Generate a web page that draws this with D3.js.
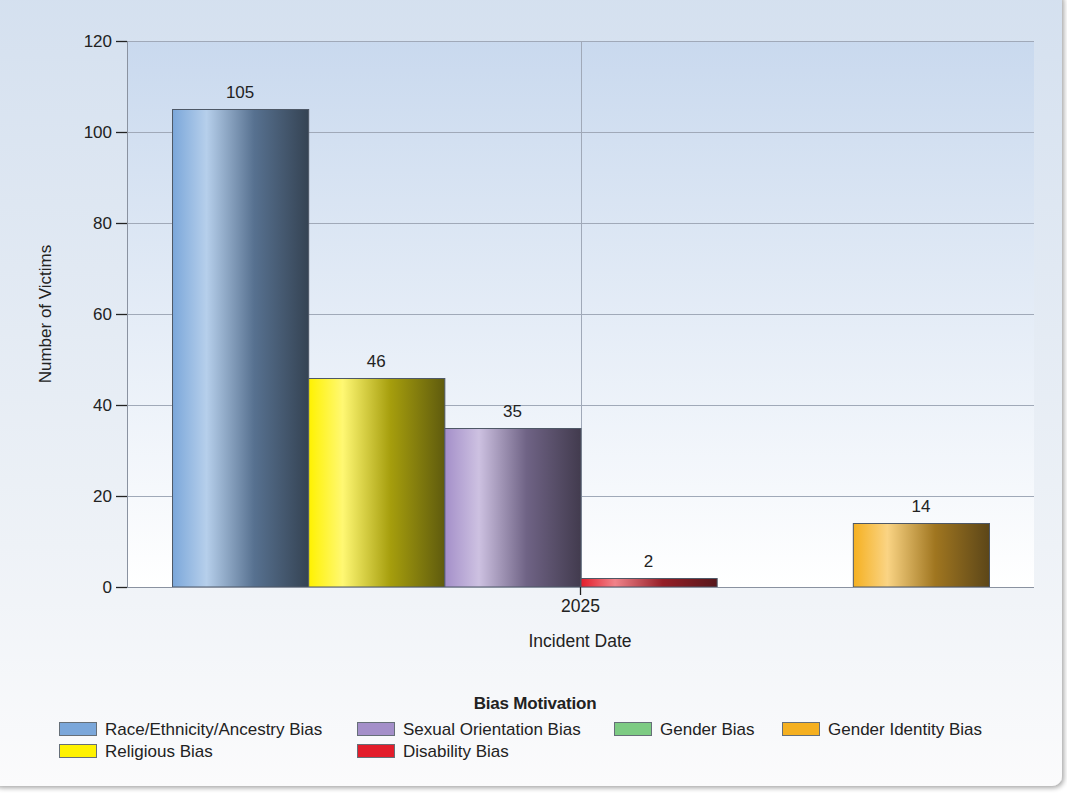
<!DOCTYPE html>
<html><head><meta charset="utf-8">
<script src="https://cdn.jsdelivr.net/npm/d3@7"></script>
<style>body{margin:0;background:#fff}svg{display:block}text{font-family:"Liberation Sans",Arial,sans-serif;fill:#222}</style>
</head><body><svg id="c" width="1067" height="795"></svg>
<script>
const categories = ["2025"];
const seriesNames = ["Race/Ethnicity/Ancestry Bias","Religious Bias","Sexual Orientation Bias","Disability Bias","Gender Bias","Gender Identity Bias"];
const seriesValues = [105, 46, 35, 2, 0, 14];
const seriesColors = ["#7ba7da","#fff200","#a48fc9","#e31d2b","#7dcb83","#f5b020"];
const yTicks = [0,20,40,60,80,100,120];
const legendOrder = ["Race/Ethnicity/Ancestry Bias","Sexual Orientation Bias","Gender Bias","Gender Identity Bias","Religious Bias","Disability Bias"];

const svg = d3.select("#c");
const defs = svg.append("defs");
const m={l:127,r:1034,t:41,b:587};

// outer background
const og = defs.append("linearGradient").attr("id","outer").attr("x1",0).attr("y1",0).attr("x2",0).attr("y2",1);
og.append("stop").attr("offset","0%").attr("stop-color","#d4e0ef");
og.append("stop").attr("offset","70%").attr("stop-color","#eef2f7");
og.append("stop").attr("offset","100%").attr("stop-color","#fbfbfc");
const sf = defs.append("filter").attr("id","sh").attr("x","-5%").attr("y","-5%").attr("width","110%").attr("height","110%");
sf.append("feGaussianBlur").attr("in","SourceAlpha").attr("stdDeviation",2.5);
sf.append("feOffset").attr("dx",2).attr("dy",2).attr("result","b");
sf.append("feComponentTransfer").append("feFuncA").attr("type","linear").attr("slope",0.35);
const fm = sf.append("feMerge"); fm.append("feMergeNode"); fm.append("feMergeNode").attr("in","SourceGraphic");
svg.append("rect").attr("x",-10).attr("y",-10).attr("width",1072).attr("height",796).attr("rx",10).attr("fill","url(#outer)").attr("filter","url(#sh)");

// plot bg
const pg = defs.append("linearGradient").attr("id","plotbg").attr("x1",0).attr("y1",0).attr("x2",0).attr("y2",1);
pg.append("stop").attr("offset","0%").attr("stop-color","#c9d9ee");
pg.append("stop").attr("offset","100%").attr("stop-color","#ffffff");
svg.append("rect").attr("x",m.l).attr("y",m.t).attr("width",m.r-m.l).attr("height",m.b-m.t).attr("fill","url(#plotbg)");

const y = d3.scaleLinear().domain([0,120]).range([m.b,m.t]);
const x0 = d3.scaleBand().domain(categories).range([m.l,m.r]).paddingInner(0).paddingOuter(0.0551);
const x1 = d3.scaleBand().domain(seriesNames).range([0,x0.bandwidth()]);

// gridlines
svg.append("g").selectAll("line").data(yTicks.filter(d=>d>0)).join("line")
 .attr("x1",m.l).attr("x2",m.r).attr("y1",d=>y(d)+0.5).attr("y2",d=>y(d)+0.5)
 .attr("stroke","#a0a9b8").attr("stroke-width",1);
const cx = Math.round(x0("2025")+x0.bandwidth()/2)+0.5;
svg.append("line").attr("x1",cx).attr("x2",cx).attr("y1",m.t).attr("y2",m.b).attr("stroke","#a0a9b8");

// gradients for bars
seriesColors.forEach((c,i)=>{
  const g = defs.append("linearGradient").attr("id","bg"+i).attr("x1",0).attr("y1",0).attr("x2",1).attr("y2",0);
  const light=d3.interpolateRgb(c,"#ffffff")(0.45);
  g.append("stop").attr("offset","0%").attr("stop-color",c);
  g.append("stop").attr("offset","25%").attr("stop-color",light);
  g.append("stop").attr("offset","60%").attr("stop-color",d3.interpolateRgb(c,"#202020")(0.4));
  g.append("stop").attr("offset","100%").attr("stop-color",d3.interpolateRgb(c,"#141414")(0.68));
});

const bars = svg.append("g").attr("transform",`translate(${x0("2025")},0)`);
seriesNames.forEach((s,i)=>{
  const v=seriesValues[i];
  if(v<=0) return;
  bars.append("rect").attr("x",x1(s)+0.5).attr("y",Math.round(y(v))+0.5)
   .attr("width",x1.bandwidth()).attr("height",y(0)-Math.round(y(v))-0.5)
   .attr("fill",`url(#bg${i})`).attr("stroke","#4e5866").attr("stroke-width",1);
  bars.append("text").attr("x",x1(s)+x1.bandwidth()/2).attr("y",y(v)-11)
   .attr("text-anchor","middle").attr("font-size",17).text(v);
});

// axes
svg.append("line").attr("x1",m.l+0.5).attr("x2",m.l+0.5).attr("y1",m.t).attr("y2",m.b).attr("stroke","#8a92a0");
svg.append("line").attr("x1",m.l).attr("x2",m.r).attr("y1",m.b+0.5).attr("y2",m.b+0.5).attr("stroke","#8a92a0");
const ya = svg.append("g").attr("transform",`translate(${m.l},0)`)
 .call(d3.axisLeft(y).tickValues(yTicks).tickSize(11).tickPadding(4).tickFormat(d3.format("d")));
ya.select(".domain").remove();
ya.selectAll(".tick line").attr("stroke","#222").attr("stroke-width",1.3);
ya.selectAll(".tick text").attr("font-size",17).attr("fill","#222").attr("font-family","Liberation Sans, Arial, sans-serif");

const xa = svg.append("g").attr("transform",`translate(0,${m.b})`)
 .call(d3.axisBottom(x0).tickSize(8).tickPadding(5));
xa.select(".domain").remove();
xa.selectAll(".tick line").attr("stroke","#222").attr("stroke-width",1.3);
xa.selectAll(".tick text").attr("font-size",17.5).attr("fill","#222").attr("font-family","Liberation Sans, Arial, sans-serif");

svg.append("text").attr("transform","translate(51,314) rotate(-90)").attr("text-anchor","middle").attr("font-size",17).text("Number of Victims");
svg.append("text").attr("x",580).attr("y",647).attr("text-anchor","middle").attr("font-size",17.5).text("Incident Date");

// legend
svg.append("text").attr("x",535).attr("y",709).attr("text-anchor","middle").attr("font-size",17).attr("font-weight","bold").attr("letter-spacing",-0.2).text("Bias Motivation");
const colX=[59,357,614,782], rowY=[722,744];
legendOrder.forEach((s,k)=>{
  const col=k%4,row=Math.floor(k/4);
  const i=seriesNames.indexOf(s);
  const g=svg.append("g").attr("transform",`translate(${colX[col]},${rowY[row]})`);
  g.append("rect").attr("x",0.5).attr("y",0.5).attr("width",37).attr("height",13).attr("fill",seriesColors[i]).attr("stroke","#666f78");
  g.append("text").attr("x",46).attr("y",13).attr("font-size",17).text(s);
});
</script></body></html>
